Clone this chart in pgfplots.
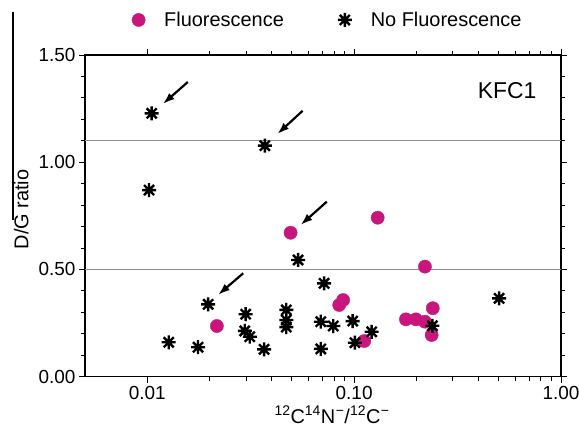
\documentclass[border=0pt]{standalone}
\usepackage{fontspec}
\setmainfont{Liberation Sans}
\usepackage{pgfplots}
\pgfplotsset{compat=1.18}
\usetikzlibrary{arrows.meta}

\definecolor{fluo}{RGB}{200,22,125}
\definecolor{hline}{RGB}{140,140,140}

% 8-armed asterisk
\pgfdeclareplotmark{ast8}{%
  \pgfpathmoveto{\pgfqpoint{-\pgfplotmarksize}{0pt}}%
  \pgfpathlineto{\pgfqpoint{\pgfplotmarksize}{0pt}}%
  \pgfpathmoveto{\pgfqpoint{0pt}{-\pgfplotmarksize}}%
  \pgfpathlineto{\pgfqpoint{0pt}{\pgfplotmarksize}}%
  \pgfpathmoveto{\pgfqpoint{-0.72\pgfplotmarksize}{-0.72\pgfplotmarksize}}%
  \pgfpathlineto{\pgfqpoint{0.72\pgfplotmarksize}{0.72\pgfplotmarksize}}%
  \pgfpathmoveto{\pgfqpoint{-0.72\pgfplotmarksize}{0.72\pgfplotmarksize}}%
  \pgfpathlineto{\pgfqpoint{0.72\pgfplotmarksize}{-0.72\pgfplotmarksize}}%
  \pgfusepathqstroke}

\begin{document}
\begin{tikzpicture}
\useasboundingbox (-85bp,-53.4bp) rectangle (494bp,376.6bp);
\begin{axis}[
  xmode=log,
  scale only axis,
  width=476bp, height=321.6bp,
  xmin=0.005, xmax=1,
  ymin=0, ymax=1.5,
  xtick={0.01,0.1,1},
  xticklabels={0.01,0.10,1.00},
  ytick={0,0.5,1,1.5},
  yticklabels={0.00,0.50,1.00,1.50},
  minor y tick num=4,
  tick align=outside,
  major tick length=6bp,
  minor tick length=4bp,
  every tick/.style={black, line width=0.9bp},
  axis line style={line width=1.2bp},
  /pgf/number format/assume math mode=true,
  tick label style={font=\fontsize{19}{22}\selectfont},
  xlabel={\textsuperscript{12}C\textsuperscript{14}N\kern0.5bp\textsuperscript{−}/\textsuperscript{12}C\kern0.5bp\textsuperscript{−}},
  xlabel style={font=\fontsize{20}{23}\selectfont, at={(axis description cs:0.519,0)}, anchor=center, yshift=-38bp, inner sep=1bp},
  ylabel={D/G ratio},
  ylabel style={font=\fontsize{20}{23}\selectfont, at={(axis description cs:-0.134,0.52)}, anchor=center},
  legend style={draw=none, fill=none, font=\fontsize{20}{23}\selectfont,
    at={(axis description cs:0.51,1.109)}, anchor=center,
    legend columns=2,
    /tikz/every odd column/.append style={column sep=17bp},
    /tikz/every even column/.append style={column sep=52bp}},
  legend cell align=left,
]
\addplot[only marks, mark=*, mark size=6.6bp, fill=fluo, draw=fluo] coordinates {
  (0.0493,0.671)
  (0.0217,0.236)
  (0.0847,0.334)
  (0.0885,0.357)
  (0.1119,0.166)
  (0.130,0.741)
  (0.220,0.513)
  (0.178,0.267)
  (0.199,0.267)
  (0.220,0.256)
  (0.240,0.319)
  (0.237,0.194)
};
\addlegendentry{Fluorescence}
\addplot[only marks, mark=ast8, mark size=7bp, black, line width=2.4bp] coordinates {
  (0.0105,1.228)
  (0.0370,1.077)
  (0.0102,0.870)
  (0.0536,0.544)
  (0.0197,0.337)
  (0.0127,0.160)
  (0.0176,0.137)
  (0.0299,0.291)
  (0.0296,0.213)
  (0.0313,0.186)
  (0.0367,0.127)
  (0.0470,0.311)
  (0.0470,0.264)
  (0.0470,0.231)
  (0.0716,0.435)
  (0.0690,0.256)
  (0.0793,0.236)
  (0.0984,0.259)
  (0.0690,0.129)
  (0.1009,0.158)
  (0.1216,0.209)
  (0.239,0.237)
  (0.502,0.365)
};
\addlegendentry{No Fluorescence}
\addplot[hline, line width=1.2bp, forget plot] coordinates {(0.005,1.1) (1,1.1)};
\addplot[hline, line width=1.2bp, forget plot] coordinates {(0.005,0.5) (1,0.5)};
% arrows
\draw[-{Latex[length=12bp,width=8bp]}, line width=2.2bp] (axis cs:0.0157,1.374) -- (axis cs:0.01188,1.271);
\draw[-{Latex[length=12bp,width=8bp]}, line width=2.2bp] (axis cs:0.0564,1.240) -- (axis cs:0.0425,1.131);
\draw[-{Latex[length=12bp,width=8bp]}, line width=2.2bp] (axis cs:0.0738,0.816) -- (axis cs:0.0551,0.707);
\draw[-{Latex[length=12bp,width=8bp]}, line width=2.2bp] (axis cs:0.0291,0.482) -- (axis cs:0.02198,0.381);
\node[font=\fontsize{23}{26}\selectfont] at (axis description cs:0.887,0.888) {KFC1};
\end{axis}
\draw[line width=1.2bp] (-72bp,364.6bp) -- (-72bp,156.6bp);
\end{tikzpicture}
\end{document}
